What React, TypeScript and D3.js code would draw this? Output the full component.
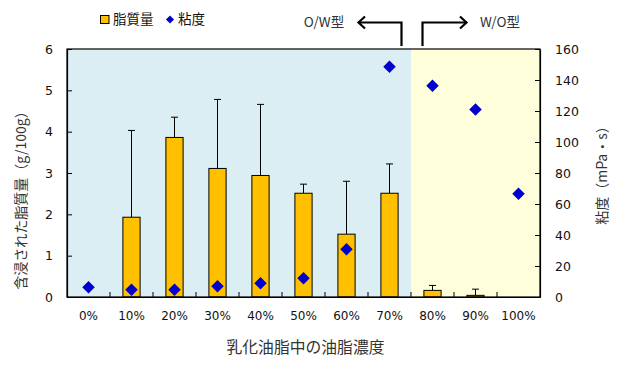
import * as d3 from "d3";
import React from "react";

const categories = ["0%", "10%", "20%", "30%", "40%", "50%", "60%", "70%", "80%", "90%", "100%"];
// 含浸された脂質量 (g/100g), mean and upper error (SD)
const lipid = [0, 1.93, 3.86, 3.11, 2.94, 2.51, 1.52, 2.51, 0.16, 0.04, 0];
const lipidSd = [0, 2.1, 0.49, 1.67, 1.72, 0.22, 1.28, 0.71, 0.12, 0.15, 0];
// 粘度 (mPa・s)
const viscosity = [6.3, 4.7, 4.7, 6.9, 8.8, 12.1, 30.8, 148.6, 136.3, 121, 66.6];
const leftTicks = [0, 1, 2, 3, 4, 5, 6];
const rightTicks = [0, 20, 40, 60, 80, 100, 120, 140, 160];
const owCategories = ["0%", "10%", "20%", "30%", "40%", "50%", "60%", "70%"];

const W = 622;
const H = 367;
const margin = { top: 49, right: 82, bottom: 70, left: 67 };
const LATIN = "'DejaVu Sans', sans-serif";
const CJK = "'Noto Sans CJK JP', sans-serif";

export default function App() {
  const svgRef = React.useRef<SVGSVGElement>(null);

  React.useEffect(() => {
    if (!svgRef.current) return;
    const svg = d3.select(svgRef.current);
    svg.selectAll("*").remove();

    const x0 = margin.left;
    const x1 = W - margin.right;
    const y0 = H - margin.bottom;
    const y1 = margin.top;

    const x = d3.scaleBand<string>().domain(categories).range([x0, x1]).padding(0);
    const yL = d3.scaleLinear().domain([0, 6]).range([y0, y1]);
    const yR = d3.scaleLinear().domain([0, 160]).range([y0, y1]);
    const bw = x.bandwidth();
    const barW = bw * 0.4;

    // background regions
    const splitX = (x(owCategories[owCategories.length - 1]) ?? 0) + bw;
    svg.append("rect").attr("x", x0).attr("y", y1).attr("width", splitX - x0).attr("height", y0 - y1).attr("fill", "#DAEEF3");
    svg.append("rect").attr("x", splitX).attr("y", y1).attr("width", x1 - splitX).attr("height", y0 - y1).attr("fill", "#FFFEDB");

    // bars
    const g = svg.append("g");
    categories.forEach((c, i) => {
      if (!lipid[i]) return;
      const cx = (x(c) ?? 0) + bw / 2;
      const top = yL(lipid[i] + lipidSd[i]);
      g.append("line").attr("x1", cx).attr("x2", cx).attr("y1", yL(lipid[i])).attr("y2", top).attr("stroke", "#000").attr("stroke-width", 1);
      g.append("line").attr("x1", cx - 3.5).attr("x2", cx + 3.5).attr("y1", top).attr("y2", top).attr("stroke", "#000").attr("stroke-width", 1);
      g.append("rect")
        .attr("x", cx - barW / 2)
        .attr("y", yL(lipid[i]))
        .attr("width", barW)
        .attr("height", y0 - yL(lipid[i]))
        .attr("fill", "#FFC000")
        .attr("stroke", "#000")
        .attr("stroke-width", 1);
    });

    // frame
    svg.append("rect").attr("x", x0).attr("y", y1).attr("width", x1 - x0).attr("height", y0 - y1)
      .attr("fill", "none").attr("stroke", "#000").attr("stroke-width", 1.2);

    // axes
    const axL = svg.append("g").attr("transform", `translate(${x0},0)`)
      .call(d3.axisLeft(yL).tickValues(leftTicks).tickFormat(d3.format("d") as any).tickSizeInner(-5).tickSizeOuter(0).tickPadding(14) as any);
    const axR = svg.append("g").attr("transform", `translate(${x1},0)`)
      .call(d3.axisRight(yR).tickValues(rightTicks).tickSizeInner(-5).tickSizeOuter(0).tickPadding(15) as any);
    const boundaries = categories.slice(1);
    const axB = svg.append("g").attr("transform", `translate(0,${y0})`)
      .call(d3.axisBottom(x).tickValues(boundaries).tickSizeInner(-5).tickSizeOuter(0).tickFormat(() => "") as any);
    axB.selectAll(".tick").attr("transform", (d: any) => `translate(${x(d)},0)`);
    [axL, axR, axB].forEach((a) => {
      a.select(".domain").attr("stroke", "#000").attr("stroke-width", 1.2);
      a.selectAll(".tick line").attr("stroke", "#000");
      a.selectAll("text").attr("font-family", LATIN).attr("font-size", 12.5).attr("fill", "#111");
    });

    // category labels
    svg.append("g").selectAll("text").data(categories).enter().append("text")
      .attr("x", (d) => (x(d) ?? 0) + bw / 2)
      .attr("y", 316)
      .attr("dy", "0.35em")
      .attr("text-anchor", "middle")
      .attr("font-family", LATIN)
      .attr("font-size", 12)
      .attr("fill", "#111")
      .text((d) => d);

    // viscosity diamonds
    const diamond = d3.symbol().type(d3.symbolDiamond2).size(100);
    svg.append("g").selectAll("path").data(viscosity).enter().append("path")
      .attr("d", diamond as any)
      .attr("transform", (d, i) => `translate(${(x(categories[i]) ?? 0) + bw / 2},${yR(d)})`)
      .attr("fill", "#0000CC");

    // axis titles
    svg.append("text").attr("x", (x0 + x1) / 2 + 2).attr("y", 347).attr("dy", "0.35em")
      .attr("text-anchor", "middle").attr("font-family", CJK).attr("font-size", 15.8).attr("fill", "#333")
      .text("乳化油脂中の油脂濃度");
    svg.append("text").attr("transform", `translate(21,197) rotate(-90)`).attr("dy", "0.35em")
      .attr("text-anchor", "middle").attr("font-family", CJK).attr("font-size", 14).attr("fill", "#333")
      .text("含浸された脂質量（g/100g）");
    svg.append("text").attr("transform", `translate(602,172) rotate(-90)`).attr("dy", "0.35em")
      .attr("text-anchor", "middle").attr("font-family", CJK).attr("font-size", 14).attr("fill", "#333")
      .text("粘度（mPa・s）");

    // legend
    const lg = svg.append("g");
    lg.append("rect").attr("x", 100.5).attr("y", 15.5).attr("width", 8.5).attr("height", 8)
      .attr("fill", "#FFC000").attr("stroke", "#000").attr("stroke-width", 1);
    lg.append("text").attr("x", 113).attr("y", 19).attr("dy", "0.35em").attr("font-family", CJK)
      .attr("font-size", 13.5).attr("fill", "#111").text("脂質量");
    lg.append("path").attr("d", d3.symbol().type(d3.symbolDiamond2).size(42) as any)
      .attr("transform", "translate(170,19.5)").attr("fill", "#0000CC");
    lg.append("text").attr("x", 178).attr("y", 19).attr("dy", "0.35em").attr("font-family", CJK)
      .attr("font-size", 13.5).attr("fill", "#111").text("粘度");

    // O/W and W/O arrows
    const ar = svg.append("g").attr("fill", "none").attr("stroke", "#000").attr("stroke-width", 2.2);
    ar.append("path").attr("d", "M401.5,46 V22.5 H358.5");
    ar.append("path").attr("d", "M365,16.5 L358.5,22.5 L365,28.5");
    ar.append("path").attr("d", "M422.5,46 V22.5 H466.5");
    ar.append("path").attr("d", "M460,16.5 L466.5,22.5 L460,28.5");
    svg.append("text").attr("x", 324).attr("y", 22).attr("dy", "0.35em").attr("text-anchor", "middle")
      .attr("font-family", CJK).attr("font-size", 13.5).attr("fill", "#333").text("O/W型");
    svg.append("text").attr("x", 500).attr("y", 22).attr("dy", "0.35em").attr("text-anchor", "middle")
      .attr("font-family", CJK).attr("font-size", 13.5).attr("fill", "#333").text("W/O型");
  }, []);

  return (
    <div>
      <style>{"body{margin:0}"}</style>
      <svg ref={svgRef} width={W} height={H} style={{ display: "block", background: "#fff" }} />
    </div>
  );
}
